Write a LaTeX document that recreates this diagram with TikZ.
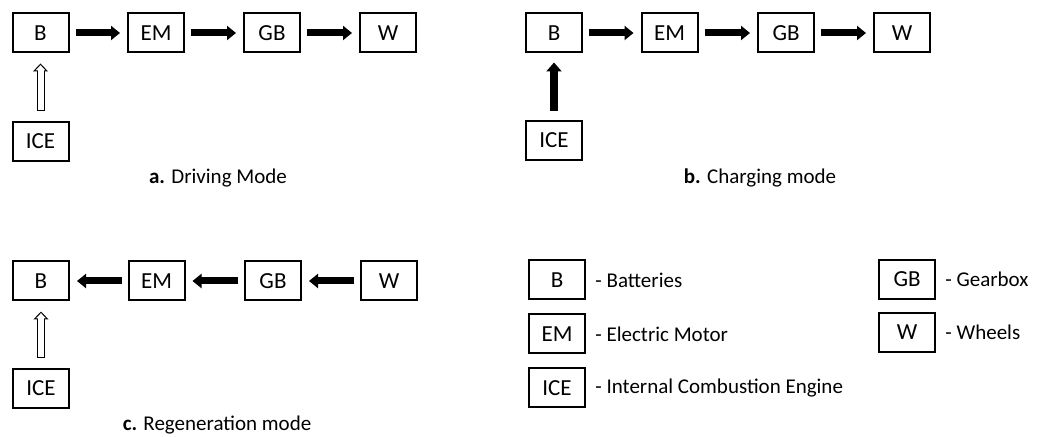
\documentclass[tikz,border=0pt]{standalone}
\usepackage{fontspec}
\setmainfont{Carlito}
\usepackage{tikz}
\usetikzlibrary{arrows.meta, positioning}

\begin{document}
\begin{tikzpicture}[
    x=0.5pt, y=-0.5pt,
    comp/.style={rectangle, draw=black, line width=1pt, minimum width=28pt, minimum height=19.5pt, inner sep=0pt, font=\fontsize{11.5}{13}\selectfont},
    caption/.style={font=\fontsize{10.5}{12.6}\selectfont, inner sep=0pt},
    desc/.style={font=\fontsize{10.5}{12.6}\selectfont, inner sep=0pt, anchor=west},
    flow/.style={line width=3.5pt, -{Triangle[length=4.5pt, width=7pt]}, shorten <=3pt, shorten >=3.5pt},
    flow_up/.style={line width=4pt, -{Triangle[length=4.5pt, width=7.5pt]}, shorten <=4.5pt, shorten >=4.5pt},
    flow_off/.style={line width=4pt, -{Triangle[open, fill=white, line width=0.5pt, length=4pt, width=7.5pt]}, shorten <=5pt, shorten >=5pt,
        postaction={draw=white, line width=3pt, -, shorten <=5.5pt, shorten >=8.3pt}}
]
    \useasboundingbox (0,0) rectangle (1043,437);

    % a. Driving mode
    \node[comp] (b_drive) at (40.5,33) {B};
    \node[comp] (em_drive) at (156,33) {EM};
    \node[comp] (gb_drive) at (272,33) {GB};
    \node[comp] (w_drive) at (388,33) {W};
    \node[comp] (ice_drive) at (40.5,141.5) {ICE};

    \draw[flow] (b_drive) -- (em_drive);
    \draw[flow] (em_drive) -- (gb_drive);
    \draw[flow] (gb_drive) -- (w_drive);
    \draw[flow_off] (ice_drive) -- (b_drive);

    \node[caption] (cap_drive) at (218,178) {\textbf{a.} Driving Mode};

    % b. Charging mode
    \node[comp] (b_charge) at (554,33) {B};
    \node[comp] (em_charge) at (669.5,33) {EM};
    \node[comp] (gb_charge) at (786,33) {GB};
    \node[comp] (w_charge) at (902,33) {W};
    \node[comp] (ice_charge) at (554,140.5) {ICE};

    \draw[flow] (b_charge) -- (em_charge);
    \draw[flow] (em_charge) -- (gb_charge);
    \draw[flow] (gb_charge) -- (w_charge);
    \draw[flow_up] (ice_charge) -- (b_charge);

    \node[caption] (cap_charge) at (760,178) {\textbf{b.} Charging mode};

    % c. Regeneration mode
    \node[comp] (b_regen) at (41,281) {B};
    \node[comp] (em_regen) at (156.5,281) {EM};
    \node[comp] (gb_regen) at (273,281) {GB};
    \node[comp] (w_regen) at (389,281) {W};
    \node[comp] (ice_regen) at (41,388.5) {ICE};

    \draw[flow] (w_regen) -- (gb_regen);
    \draw[flow] (gb_regen) -- (em_regen);
    \draw[flow] (em_regen) -- (b_regen);
    \draw[flow_off] (ice_regen) -- (b_regen);

    \node[caption] (cap_regen) at (217,425) {\textbf{c.} Regeneration mode};

    % legend
    \node[comp] (key_b) at (557,280) {B};
    \node[comp] (key_em) at (557,334) {EM};
    \node[comp] (key_ice) at (557,388) {ICE};
    \node[comp] (key_gb) at (907,279.5) {GB};
    \node[comp] (key_w) at (907,332.5) {W};

    \node[desc, right=4.5pt of key_b] (txt_b) {- Batteries};
    \node[desc, right=4.5pt of key_em] (txt_em) {- Electric Motor};
    \node[desc, right=4.5pt of key_ice] (txt_ice) {- Internal Combustion Engine};
    \node[desc, right=4.5pt of key_gb] (txt_gb) {- Gearbox};
    \node[desc, right=4.5pt of key_w] (txt_w) {- Wheels};
\end{tikzpicture}
\end{document}
